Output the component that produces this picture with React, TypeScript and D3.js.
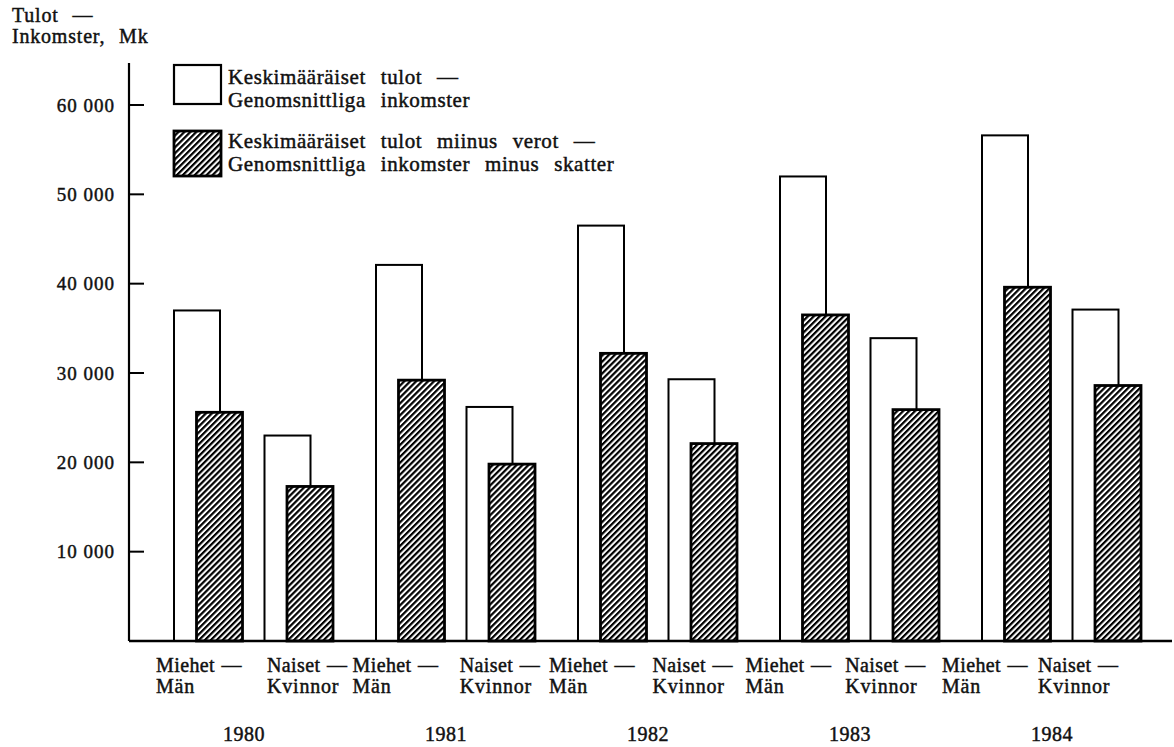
import * as d3 from "d3";

const years = ["1980", "1981", "1982", "1983", "1984"];
const sexes = ["Miehet", "Naiset"];
const sexLine1 = ["Miehet —", "Naiset —"];
const sexLine2 = ["Män", "Kvinnor"];

// Keskimääräiset tulot — Genomsnittliga inkomster
const grossMen = [37000, 42100, 46500, 52000, 56600];
const grossWomen = [23000, 26200, 29300, 33900, 37100];
// Keskimääräiset tulot miinus verot — Genomsnittliga inkomster minus skatter
const netMen = [25600, 29200, 32200, 36500, 39600];
const netWomen = [17300, 19800, 22100, 25900, 28600];

const yTicks = [10000, 20000, 30000, 40000, 50000, 60000];
const axisTitle = ["Tulot —", "Inkomster, Mk"];
const legendGross = ["Keskimääräiset tulot —", "Genomsnittliga inkomster"];
const legendNet = ["Keskimääräiset tulot miinus verot —", "Genomsnittliga inkomster minus skatter"];

const W = 1174;
const H = 747;
const FONT = "'Liberation Serif', 'Times New Roman', serif";

export default function App() {
  const y = d3.scaleLinear().domain([0, 60000]).range([641, 105]);
  const xYear = d3.scaleBand().domain(years).range([174, 1184]).paddingInner(0);
  const xSex = d3.scaleBand().domain(sexes).range([0, 181]);
  const barW = 46;
  const hatchShift = 22.5;
  const axisX = 129;

  // the label row was typeset on its own, so it drifts a little from the bars
  const labelX = [
    d3.scaleLinear().domain([174, 982]).range([156, 942]),
    d3.scaleLinear().domain([264.5, 1072.5]).range([267, 1038]),
  ];

  const textProps = {
    fontFamily: FONT,
    fill: "#111",
    stroke: "#111",
    strokeWidth: 0.45,
  };

  const bars = years.map((yr, i) => {
    const pairs = [
      { sex: "Miehet", gross: grossMen[i], net: netMen[i] },
      { sex: "Naiset", gross: grossWomen[i], net: netWomen[i] },
    ];
    return (
      <g key={yr}>
        {pairs.map((p) => {
          const x0 = (xYear(yr) ?? 0) + (xSex(p.sex) ?? 0);
          return (
            <g key={p.sex}>
              <rect
                x={x0}
                y={y(p.gross)}
                width={barW}
                height={y(0) - y(p.gross)}
                fill="#fff"
                stroke="#000"
                strokeWidth={2}
              />
              <rect
                x={x0 + hatchShift}
                y={y(p.net)}
                width={barW}
                height={y(0) - y(p.net)}
                fill="url(#hatch)"
                stroke="#000"
                strokeWidth={2.8}
              />
            </g>
          );
        })}
      </g>
    );
  });

  return (
    <svg width={W} height={H} style={{ display: "block", position: "absolute", left: 0, top: 0 }}>
      <defs>
        <pattern id="hatch" patternUnits="userSpaceOnUse" width={4.2} height={4.2} patternTransform="rotate(45)">
          <rect width={4.2} height={4.2} fill="#fff" />
          <rect x={0} y={0} width={2.2} height={4.2} fill="#000" />
        </pattern>
      </defs>
      <rect width={W} height={H} fill="#fff" />

      {/* axis title */}
      {axisTitle.map((t, i) => (
        <text key={t} x={12} y={22 + i * 21} fontSize={20} letterSpacing={0.8} wordSpacing={8} {...textProps}>
          {t}
        </text>
      ))}

      {/* legend */}
      <rect x={174} y={65} width={47} height={39} fill="#fff" stroke="#000" strokeWidth={2.2} />
      {legendGross.map((t, i) => (
        <text key={t} x={228} y={84 + i * 22.5} fontSize={21} letterSpacing={0.6} wordSpacing={9} {...textProps}>
          {t}
        </text>
      ))}
      <rect x={174} y={131} width={47} height={45} fill="url(#hatch)" stroke="#000" strokeWidth={2.8} />
      {legendNet.map((t, i) => (
        <text key={t} x={228} y={148 + i * 22.5} fontSize={21} letterSpacing={0.6} wordSpacing={9} {...textProps}>
          {t}
        </text>
      ))}

      {bars}

      {/* y axis */}
      <line x1={axisX} x2={axisX} y1={63} y2={y(0)} stroke="#000" strokeWidth={2.2} />
      {yTicks.map((v) => (
        <g key={v}>
          <line x1={axisX} x2={axisX + 15} y1={y(v)} y2={y(v)} stroke="#000" strokeWidth={2} />
          <text x={115} y={y(v)} dy="0.35em" textAnchor="end" fontSize={19} letterSpacing={1} {...textProps}>
            {d3.format(",")(v).replace(",", " ")}
          </text>
        </g>
      ))}

      {/* x axis */}
      <line x1={axisX} x2={1172} y1={y(0)} y2={y(0)} stroke="#000" strokeWidth={2.5} />

      {/* category labels */}
      {years.map((yr) => (
        <g key={yr}>
          {sexes.map((s, j) => {
            const lx = labelX[j]((xYear(yr) ?? 0) + (xSex(s) ?? 0));
            return (
              <g key={s}>
                <text x={lx} y={672} fontSize={20} letterSpacing={0.4} wordSpacing={1} {...textProps}>
                  {sexLine1[j]}
                </text>
                <text x={lx} y={693} fontSize={20} letterSpacing={0.8} {...textProps}>
                  {sexLine2[j]}
                </text>
              </g>
            );
          })}
          <text
            x={(xYear(yr) ?? 0) + 70}
            y={741}
            textAnchor="middle"
            fontSize={20}
            letterSpacing={0.5}
            {...textProps}
          >
            {yr}
          </text>
        </g>
      ))}
    </svg>
  );
}
